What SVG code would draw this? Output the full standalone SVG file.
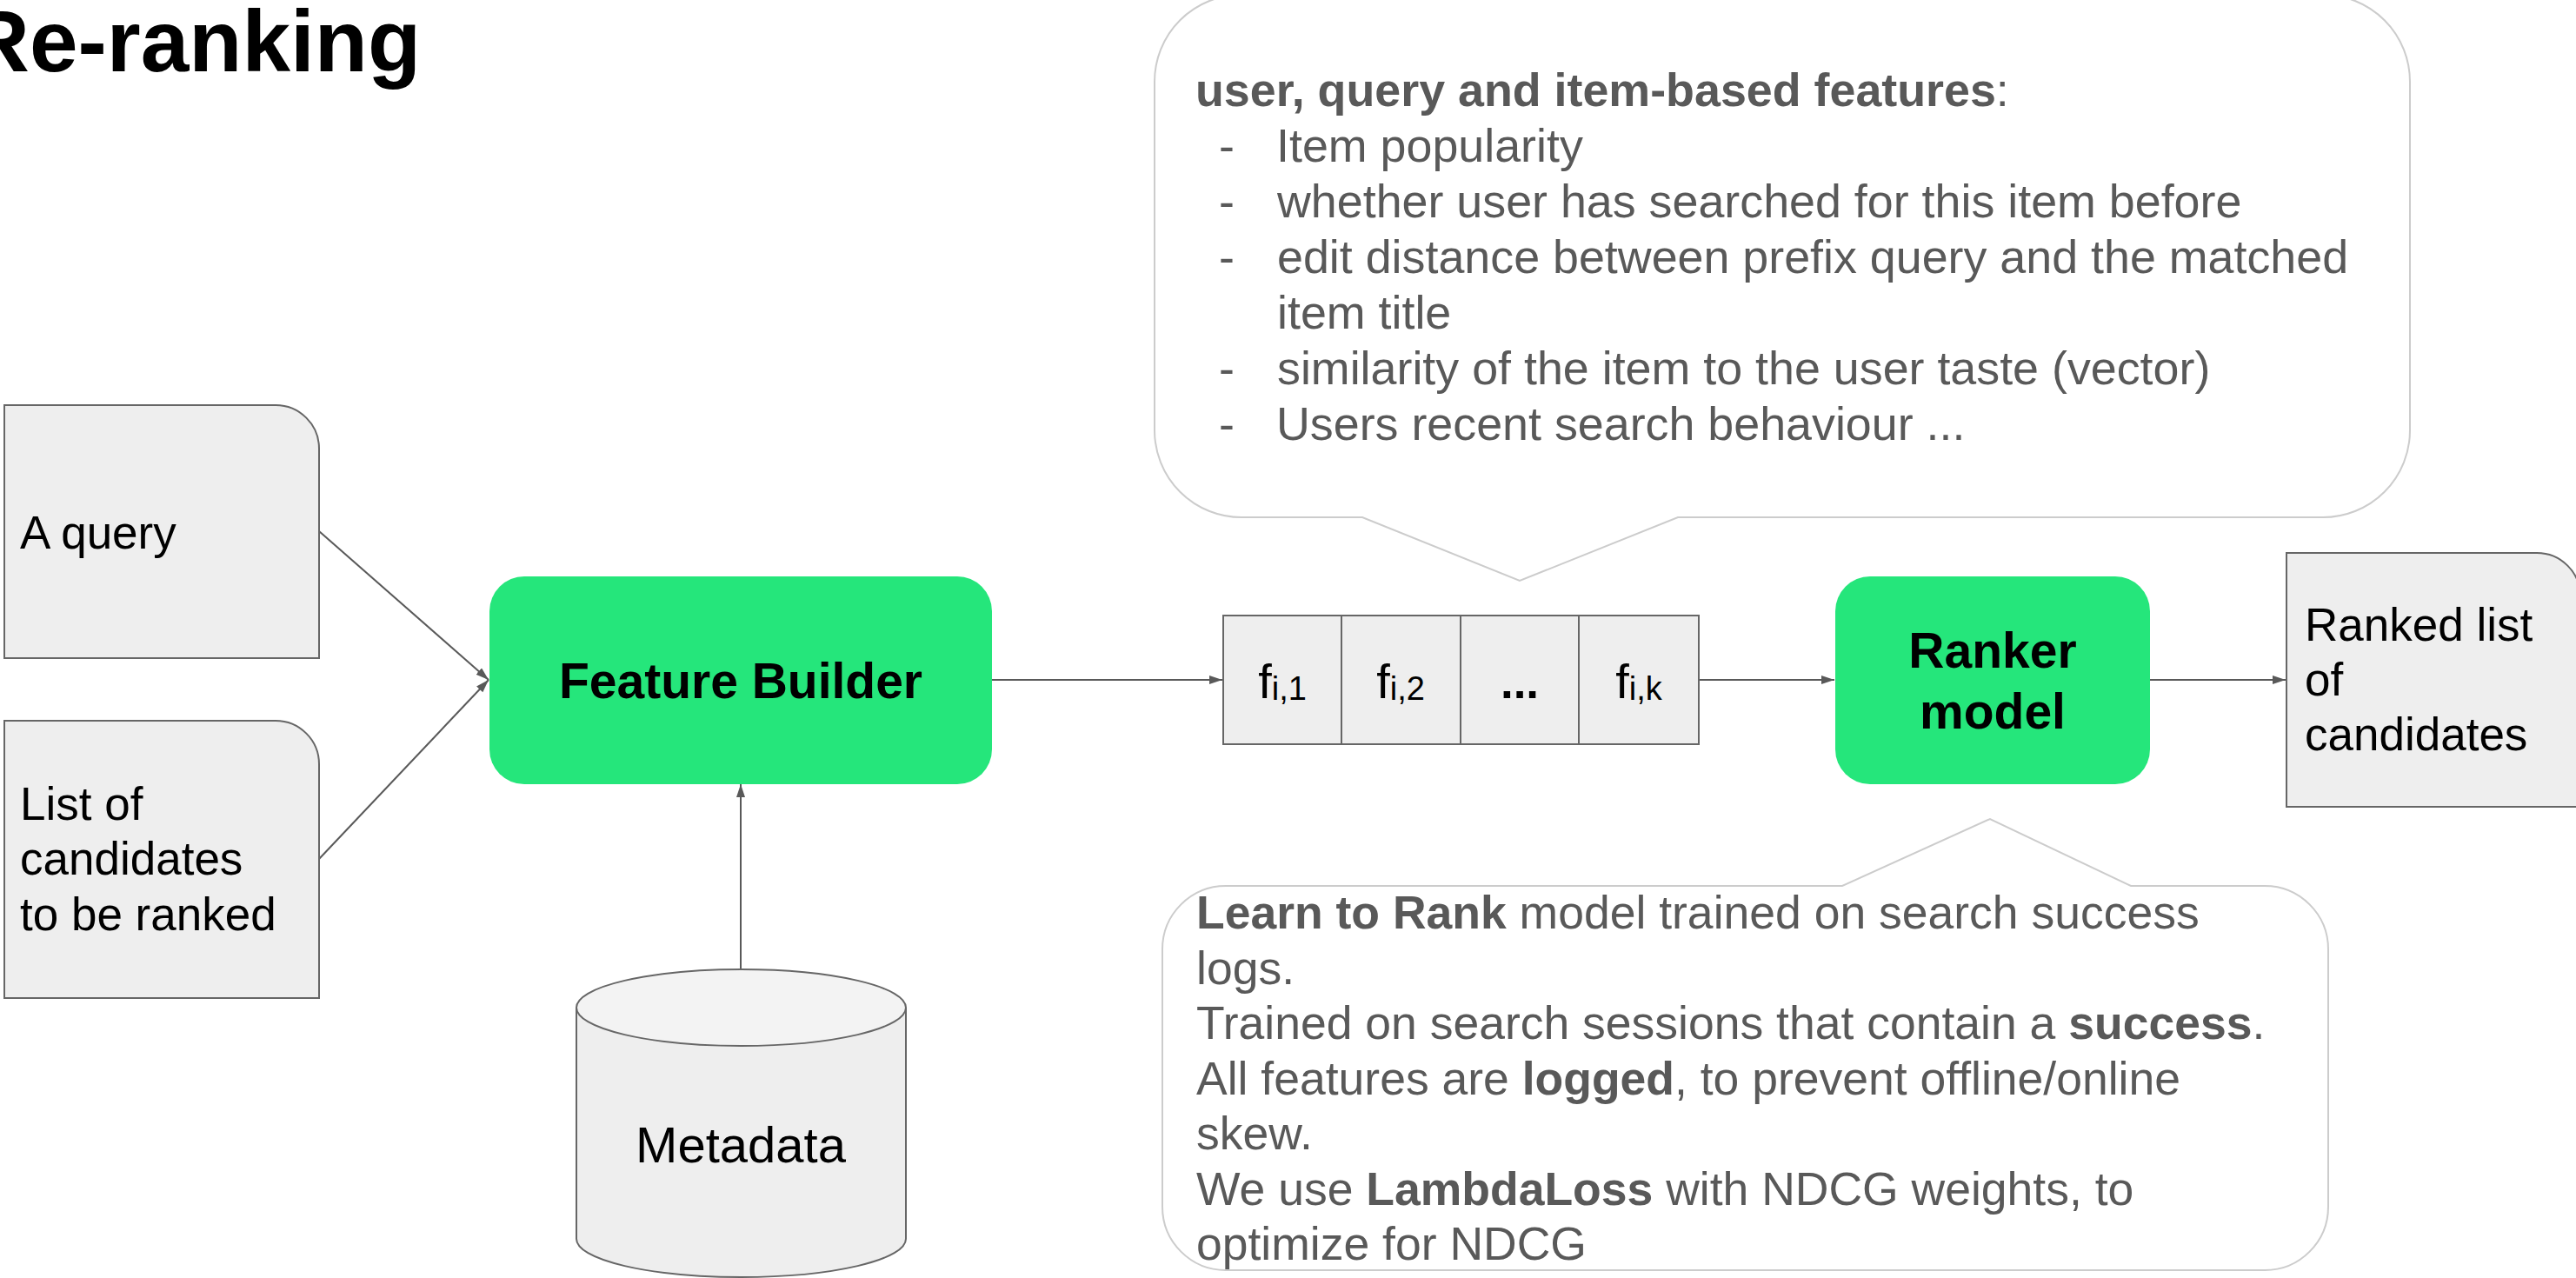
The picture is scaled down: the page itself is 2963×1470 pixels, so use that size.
<svg xmlns="http://www.w3.org/2000/svg" width="2963" height="1470" viewBox="0 0 2963 1470">
  <style>
    .t{font-family:"Liberation Sans",Arial,Helvetica,sans-serif}
    .note{fill:#eeeeee;stroke:#666666;stroke-width:2}
    .green{fill:#25e67b}
    .lbl{font-size:53px;fill:#000000}
    .bold{font-weight:bold}
    .call{fill:#ffffff;stroke:#cccccc;stroke-width:2}
    .ctext{font-size:53.8px;fill:#595959}
    .btext{font-size:53.5px;fill:#595959}
    .conn{stroke:#595959;stroke-width:2;fill:none}
  </style>
  <defs>
    <marker id="arr" markerUnits="userSpaceOnUse" markerWidth="16" markerHeight="12" refX="15" refY="5" orient="auto">
      <path d="M0,0 L15,5 L0,10 z" fill="#595959"/>
    </marker>
  </defs>

  <text class="t bold" x="484" y="82" font-size="100" text-anchor="end" fill="#000000">Re-ranking</text>

  <g id="callout-features">
    <path class="call" d="M1428,-6 H2672 A100 100 0 0 1 2772 94 V495 A100 100 0 0 1 2672 595 H1930 L1748 668 L1567 595 H1428 A100 100 0 0 1 1328 495 V94 A100 100 0 0 1 1428 -6 Z"/>
    <text class="t ctext" x="1375" y="122"><tspan class="bold">user, query and item-based features</tspan>:</text>
    <text class="t ctext" x="1402" y="186">-</text>
    <text class="t ctext" x="1468" y="186">Item popularity</text>
    <text class="t ctext" x="1402" y="250">-</text>
    <text class="t ctext" x="1469" y="250">whether user has searched for this item before</text>
    <text class="t ctext" x="1402" y="314">-</text>
    <text class="t ctext" x="1469" y="314">edit distance between prefix query and the matched</text>
    <text class="t ctext" x="1469" y="378">item title</text>
    <text class="t ctext" x="1402" y="442">-</text>
    <text class="t ctext" x="1469" y="442">similarity of the item to the user taste (vector)</text>
    <text class="t ctext" x="1402" y="506">-</text>
    <text class="t ctext" x="1468" y="506">Users recent search behaviour ...</text>
  </g>

  <g id="callout-ranker">
    <path class="call" d="M1410,1019 H2119 L2289 942 L2451 1019 H2605 A73 73 0 0 1 2678 1092 V1388 A73 73 0 0 1 2605 1461 H1410 A73 73 0 0 1 1337 1388 V1092 A73 73 0 0 1 1410 1019 Z"/>
    <text class="t btext" x="1376" y="1068"><tspan class="bold">Learn to Rank</tspan> model trained on search success</text>
    <text class="t btext" x="1376" y="1132">logs.</text>
    <text class="t btext" x="1376" y="1195">Trained on search sessions that contain a <tspan class="bold">success</tspan>.</text>
    <text class="t btext" x="1376" y="1259">All features are <tspan class="bold">logged</tspan>, to prevent offline/online</text>
    <text class="t btext" x="1376" y="1322">skew.</text>
    <text class="t btext" x="1376" y="1386">We use <tspan class="bold">LambdaLoss</tspan> with NDCG weights, to</text>
    <text class="t btext" x="1376" y="1449">optimize for NDCG</text>
  </g>

  <g id="connectors">
    <line class="conn" x1="367" y1="611" x2="562" y2="782" marker-end="url(#arr)"/>
    <line class="conn" x1="367" y1="988" x2="562" y2="782" marker-end="url(#arr)"/>
    <line class="conn" x1="852" y1="1115" x2="852" y2="902" marker-end="url(#arr)"/>
    <line class="conn" x1="1141" y1="782" x2="1406" y2="782" marker-end="url(#arr)"/>
    <line class="conn" x1="1954" y1="782" x2="2110" y2="782" marker-end="url(#arr)"/>
    <line class="conn" x1="2473" y1="782" x2="2629" y2="782" marker-end="url(#arr)"/>
  </g>

  <g id="query">
    <path class="note" d="M5,466 H317 A50 50 0 0 1 367 516 V757 H5 Z"/>
    <text class="t lbl" x="23" y="631">A query</text>
  </g>

  <g id="candidates">
    <path class="note" d="M5,829 H317 A50 50 0 0 1 367 879 V1148 H5 Z"/>
    <text class="t lbl" x="23" y="943">List of</text>
    <text class="t lbl" x="23" y="1006">candidates</text>
    <text class="t lbl" x="23" y="1070">to be ranked</text>
  </g>

  <g id="feature-builder">
    <rect class="green" x="563" y="663" width="578" height="239" rx="40" ry="40"/>
    <text class="t bold" x="852" y="803" font-size="57" text-anchor="middle" fill="#000000">Feature Builder</text>
  </g>

  <g id="metadata">
    <path class="note" d="M663,1159 V1425 A189.5 44 0 0 0 1042 1425 V1159"/>
    <ellipse cx="852.5" cy="1159" rx="189.5" ry="44" fill="#f3f3f3" stroke="#666666" stroke-width="2"/>
    <text class="t" x="852" y="1337" font-size="58" text-anchor="middle" fill="#000000">Metadata</text>
  </g>

  <g id="feature-vector">
    <rect class="note" x="1407" y="708" width="136" height="148"/>
    <rect class="note" x="1543" y="708" width="137" height="148"/>
    <rect class="note" x="1680" y="708" width="136" height="148"/>
    <rect class="note" x="1816" y="708" width="138" height="148"/>
    <text class="t" x="1475" y="803" font-size="56" text-anchor="middle" fill="#000000">f<tspan font-size="38" dy="2">i,1</tspan></text>
    <text class="t" x="1611" y="803" font-size="56" text-anchor="middle" fill="#000000">f<tspan font-size="38" dy="2">i,2</tspan></text>
    <text class="t lbl bold" x="1748" y="803" text-anchor="middle">...</text>
    <text class="t" x="1885" y="803" font-size="56" text-anchor="middle" fill="#000000">f<tspan font-size="38" dy="2">i,k</tspan></text>
  </g>

  <g id="ranker">
    <rect class="green" x="2111" y="663" width="362" height="239" rx="40" ry="40"/>
    <text class="t bold" x="2292" y="768" font-size="57" text-anchor="middle" fill="#000000">Ranker</text>
    <text class="t bold" x="2292" y="838" font-size="57" text-anchor="middle" fill="#000000">model</text>
  </g>

  <g id="ranked-list">
    <path class="note" d="M2630,636 H2918 A50 50 0 0 1 2968 686 V928 H2630 Z"/>
    <text class="t lbl" x="2651" y="737">Ranked list</text>
    <text class="t lbl" x="2651" y="800">of</text>
    <text class="t lbl" x="2651" y="863">candidates</text>
  </g>
</svg>
